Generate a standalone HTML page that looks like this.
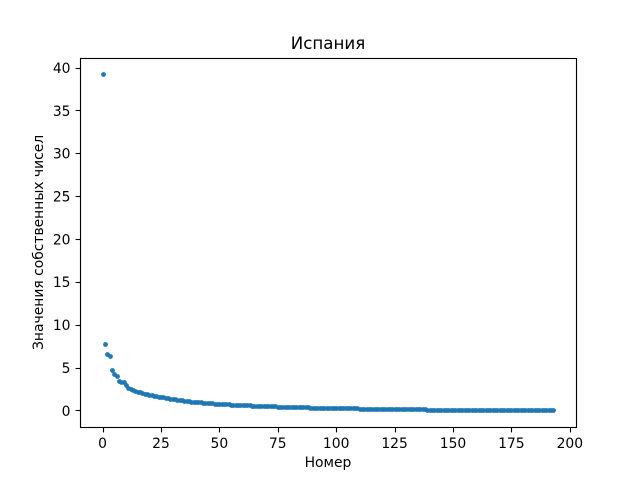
<!DOCTYPE html>
<html>
<head>
<meta charset="utf-8">
<style>
html,body{margin:0;padding:0;background:#fff;width:640px;height:480px;overflow:hidden}
svg{display:block}
text{font-family:"DejaVu Sans",sans-serif;fill:#000}
</style>
</head>
<body>
<svg id="chart" xmlns="http://www.w3.org/2000/svg" width="640" height="480" viewBox="0 0 640 480">
<rect x="0" y="0" width="640" height="480" fill="#fff"/>
<g id="points"></g>
<g id="xticks"></g>
<g id="yticks"></g>
<rect x="80.5" y="58.5" width="496" height="369" fill="none" stroke="#000" stroke-width="1.11"/>
<text x="328" y="49" text-anchor="middle" font-size="16.67">Испания</text>
<text x="328" y="467" text-anchor="middle" font-size="13.89">Номер</text>
<text transform="translate(43 242.4) rotate(-90)" text-anchor="middle" font-size="13.89">Значения собственных чисел</text>
</svg>
<script>
const eigenvalues = [
39.2,7.8,6.55,6.4,4.7,4.3,4.0,3.4,3.35,3.3,
2.95,2.6,2.5,2.35,2.3,2.2,2.1,2.05,1.95,1.9,
1.85,1.78,1.72,1.66,1.62,1.57,1.52,1.47,1.42,1.38,
1.34,1.3,1.26,1.21,1.18,1.15,1.09,1.06,1.03,1.01,
0.98,0.96,0.93,0.91,0.89,0.87,0.85,0.82,0.79,0.78,
0.76,0.75,0.73,0.72,0.7,0.68,0.67,0.66,0.65,0.63,
0.62,0.61,0.6,0.58,0.56,0.55,0.54,0.53,0.52,0.51,
0.5,0.49,0.48,0.47,0.46,0.45,0.44,0.44,0.43,0.42,
0.41,0.41,0.4,0.39,0.38,0.38,0.37,0.36,0.35,0.33,
0.33,0.32,0.32,0.31,0.31,0.3,0.3,0.29,0.29,0.28,
0.28,0.27,0.27,0.26,0.26,0.25,0.25,0.24,0.24,0.23,
0.21,0.21,0.2,0.2,0.2,0.19,0.19,0.19,0.18,0.18,
0.18,0.17,0.17,0.17,0.16,0.16,0.16,0.15,0.15,0.15,
0.14,0.14,0.14,0.13,0.13,0.12,0.12,0.12,0.11,0.1,
0.1,0.1,0.1,0.09,0.09,0.09,0.09,0.09,0.08,0.08,
0.08,0.08,0.08,0.07,0.07,0.07,0.07,0.07,0.06,0.06,
0.06,0.06,0.06,0.05,0.05,0.05,0.05,0.05,0.04,0.04,
0.04,0.04,0.04,0.03,0.03,0.03,0.03,0.03,0.02,0.02,
0.02,0.02,0.02,0.02,0.01,0.01,0.01,0.01,0.01,0.01,
0.01,0.01,0.01,0.01
];
const xTickValues = [0,25,50,75,100,125,150,175,200];
const yTickValues = [0,5,10,15,20,25,30,35,40];

const SVGNS = 'http://www.w3.org/2000/svg';
const plot = {left:80, right:576, top:57.6, bottom:427.2};
const xMin = -9.65, xMax = 202.65, yMin = -1.96, yMax = 41.16;

function xScale(v){ return plot.left + (v - xMin) / (xMax - xMin) * (plot.right - plot.left); }
function yScale(v){ return plot.bottom - (v - yMin) / (yMax - yMin) * (plot.bottom - plot.top); }
function snap(p){ return Math.round(p); }
function make(tag, attrs){
  const el = document.createElementNS(SVGNS, tag);
  for (const k in attrs) el.setAttribute(k, attrs[k]);
  return el;
}

const pointsGroup = document.getElementById('points');
eigenvalues.forEach(function(v, i){
  const c = make('circle', {cx: snap(xScale(i)) + 0.5, cy: snap(yScale(v)) + 0.5, r: 2.4, fill: '#1f77b4'});
  
  
  pointsGroup.appendChild(c);
});

const xGroup = document.getElementById('xticks');
xTickValues.forEach(function(t){
  const x = snap(xScale(t)) + 0.5;
  const l = make('line', {x1: x, x2: x, y1: 427.5, y2: 432.4, stroke: '#000', 'stroke-width': 1.11});
  
  
  xGroup.appendChild(l);
  const s = make('text', {x: xScale(t), y: 448, 'text-anchor': 'middle', 'font-size': 13.89});
  
  
  s.textContent = String(t);
  xGroup.appendChild(s);
});

const yGroup = document.getElementById('yticks');
yTickValues.forEach(function(t){
  const y = snap(yScale(t)) + 0.5;
  const l = make('line', {x1: 75.6, x2: 80.5, y1: y, y2: y, stroke: '#000', 'stroke-width': 1.11});
  
  
  yGroup.appendChild(l);
  const s = make('text', {x: 70.5, y: yScale(t) + 5.4, 'text-anchor': 'end', 'font-size': 13.89});
  
  
  s.textContent = String(t);
  yGroup.appendChild(s);
});
</script>
</body>
</html>
